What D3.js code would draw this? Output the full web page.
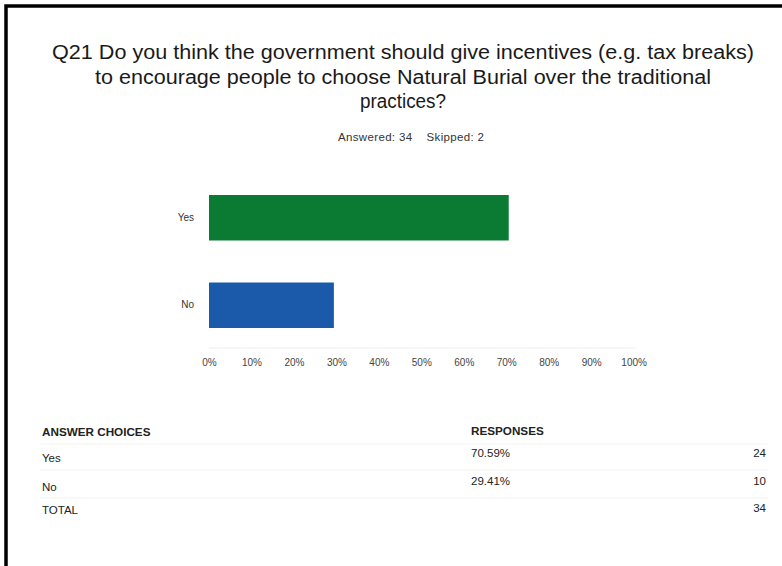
<!DOCTYPE html>
<html>
<head>
<meta charset="utf-8">
<script src="https://cdn.jsdelivr.net/npm/d3@7"></script>
<style>
  body { margin: 0; background: #fff; }
  svg { display: block; font-family: "Liberation Sans", Arial, sans-serif; }
</style>
</head>
<body>
<svg id="chart" width="782" height="566"></svg>
<script>
// survey question data
const titleLines = [
  "Q21 Do you think the government should give incentives (e.g. tax breaks)",
  "to encourage people to choose Natural Burial over the traditional",
  "practices?"
];
const answered = 34;
const skipped = 2;

const categories = ["Yes", "No"];
const percents = [70.59, 29.41];
const counts = [24, 10];
const tickValues = [0, 10, 20, 30, 40, 50, 60, 70, 80, 90, 100];

const barColors = ["#0b7a33", "#1b5aab"];

var svg = d3.select("#chart");

// frame round the page (scan edge)
svg.append("path")
  .attr("d", "M6,566V6H782")
  .attr("fill", "none")
  .attr("stroke", "#000")
  .attr("stroke-width", 3.5);

// title
var titleY = [59, 84, 108];
var titleW = [702, 616, 86];
svg.selectAll("text.title")
  .data(titleLines)
  .join("text")
  .attr("class", "title")
  .attr("x", 403)
  .attr("y", (d, i) => titleY[i])
  .attr("text-anchor", "middle")
  .attr("font-size", 20)
  .attr("fill", "#1a1a1a")
  .attr("textLength", (d, i) => titleW[i])
  .attr("lengthAdjust", "spacingAndGlyphs")
  .text(d => d);

svg.append("text")
  .attr("x", 338)
  .attr("y", 141)
  .attr("font-size", 11.5)
  .attr("fill", "#333")
  .attr("xml:space", "preserve")
  .attr("textLength", 146)
  .attr("lengthAdjust", "spacing")
  .text("Answered: " + answered + "    Skipped: " + skipped);

// scales
var x = d3.scaleLinear()
  .domain([0, 100])
  .range([209, 633.6]);

var y = d3.scaleBand()
  .domain(categories)
  .range([195, 328])
  .paddingInner(0.48);

// light baseline under bars
svg.append("line")
  .attr("x1", x(0)).attr("x2", x(100) + 2)
  .attr("y1", 348).attr("y2", 348)
  .attr("stroke", "#eee")
  .attr("stroke-width", 1);

// bars
svg.selectAll("rect.bar")
  .data(categories)
  .join("rect")
  .attr("class", "bar")
  .attr("x", x(0))
  .attr("y", d => y(d))
  .attr("width", (d, i) => x(percents[i]) - x(0))
  .attr("height", y.bandwidth())
  .attr("fill", (d, i) => barColors[i]);

// category labels
var yAxis = d3.axisLeft(y).tickSize(0).tickPadding(15);
var gy = svg.append("g")
  .attr("transform", "translate(" + x(0) + ",0)")
  .call(yAxis);
gy.select(".domain").remove();
gy.selectAll("text")
  .attr("font-size", 10)
  .attr("font-family", "Liberation Sans, Arial, sans-serif")
  .attr("fill", "#333");

// percent axis
var xAxis = d3.axisBottom(x)
  .tickValues(tickValues)
  .tickSize(0)
  .tickPadding(0)
  .tickFormat(d => d + "%");
var gx = svg.append("g")
  .attr("transform", "translate(0,359)")
  .call(xAxis);
gx.select(".domain").remove();
gx.selectAll("text")
  .attr("font-size", 10)
  .attr("font-family", "Liberation Sans, Arial, sans-serif")
  .attr("fill", "#444");

// responses table
var table = svg.append("g").attr("font-size", 11.5).attr("fill", "#222");

table.append("text").attr("x", 42).attr("y", 436)
  .attr("font-weight", "bold").attr("font-size", 11.7).text("ANSWER CHOICES");
table.append("text").attr("x", 471).attr("y", 435)
  .attr("font-weight", "bold").attr("font-size", 11.7).text("RESPONSES");

var rowY = [462, 491];
var pctY = [457, 485];
categories.forEach(function(c, i) {
  table.append("text").attr("x", 42).attr("y", rowY[i]).text(c);
  table.append("text").attr("x", 471).attr("y", pctY[i]).text(percents[i].toFixed(2) + "%");
  table.append("text").attr("x", 766).attr("y", pctY[i]).attr("text-anchor", "end").text(counts[i]);
});

table.append("text").attr("x", 42).attr("y", 514).text("TOTAL");
table.append("text").attr("x", 766).attr("y", 512).attr("text-anchor", "end")
  .text(d3.sum(counts));

// faint row separators
[444, 470, 498].forEach(function(ly) {
  svg.append("line")
    .attr("x1", 40).attr("x2", 768)
    .attr("y1", ly).attr("y2", ly)
    .attr("stroke", "#f2f2f2");
});
</script>
</body>
</html>
